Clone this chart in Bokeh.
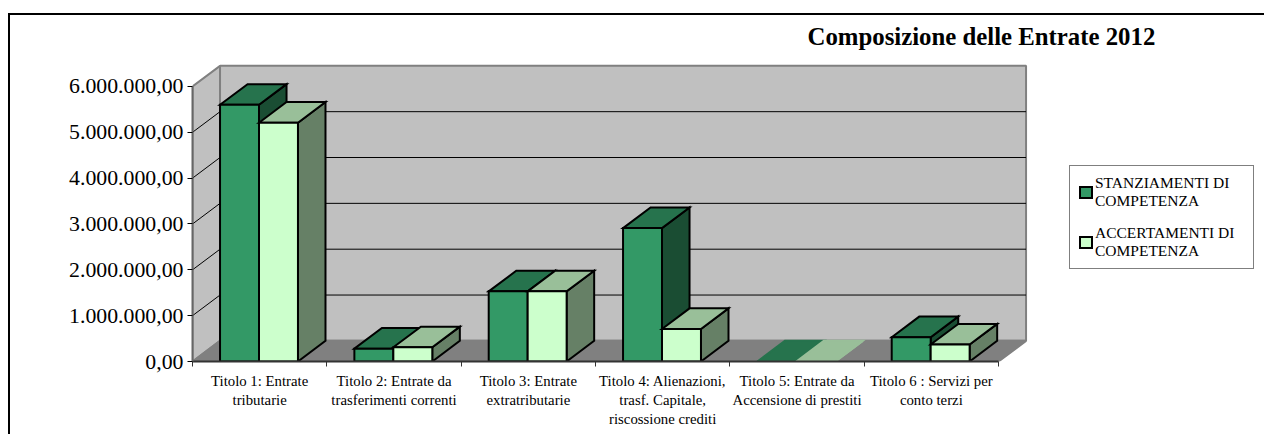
from bokeh.plotting import figure, ColumnDataSource
from bokeh.models import FixedTicker, Legend, LegendItem, Range1d
from bokeh.embed import file_html
from bokeh.resources import INLINE

categories = ["Titolo 1: Entrate\ntributarie", "Titolo 2: Entrate da\ntrasferimenti correnti",
              "Titolo 3: Entrate\nextratributarie", "Titolo 4: Alienazioni,\ntrasf. Capitale,\nriscossione crediti",
              "Titolo 5: Entrate da\nAccensione di prestiti", "Titolo 6 : Servizi per\nconto terzi"]
stanziamenti = [5.60, 0.28, 1.53, 2.91, 0.0, 0.53]
accertamenti = [5.21, 0.31, 1.53, 0.71, 0.0, 0.37]
y_ticks = [0, 1, 2, 3, 4, 5, 6]
y_labels = ["0,00", "1.000.000,00", "2.000.000,00", "3.000.000,00", "4.000.000,00", "5.000.000,00", "6.000.000,00"]
series_names = ["STANZIAMENTI DI\nCOMPETENZA", "ACCERTAMENTI DI\nCOMPETENZA"]
title_text = "Composizione delle Entrate 2012"

FONT = "Liberation Serif"
DX, DY = 0.205, 0.45
OFFSET, BAR_W = 0.205, 0.29
N = len(categories)

# outer border of the chart area, open on the right and at the bottom
frame_css = ("linear-gradient(black,black) 8px 13px/1256px 2px no-repeat,"
             "linear-gradient(black,black) 8px 13px/2px 421px no-repeat")

p = figure(width=1264, height=434, output_backend="svg", toolbar_location=None,
           x_range=Range1d(0, 7.98), y_range=Range1d(0, 6.61),
           min_border_left=192, min_border_right=0, min_border_top=58, min_border_bottom=73,
           outline_line_color=None, title=title_text, border_fill_color=None,
           styles={"background": frame_css})
p.title.align = "left"
p.title.offset = 615
p.title.standoff = 17
p.title.text_font = FONT
p.title.text_font_size = "24.8px"
p.title.text_font_style = "bold"
p.title.text_color = "black"
p.grid.visible = False

# walls and floor
ymax = y_ticks[-1]
wall_src = ColumnDataSource(dict(
    xs=[[0, 0, DX, DX], [DX, DX, N + DX, N + DX], [0, DX, N + DX, N]],
    ys=[[0, ymax, ymax + DY, DY], [DY, ymax + DY, ymax + DY, DY], [0, DY, DY, 0]],
    fill=["#c0c0c0", "#c0c0c0", "#808080"]))
p.patches("xs", "ys", source=wall_src, fill_color="fill", line_color="#808080", line_width=2)
p.multi_line([[0, DX, N + DX] for v in y_ticks[1:-1]],
             [[v, v + DY, v + DY] for v in y_ticks[1:-1]], line_color="black", line_width=1)


def faces(values, shift, top):
    xf, yf, xt, yt, xs, ys, cl = [], [], [], [], [], [], []
    for i, v in enumerate(values):
        l = i + OFFSET + shift * BAR_W
        r = l + BAR_W
        xf.append([l, l, r, r]); yf.append([0, v, v, 0])
        xt.append([l, l + DX, r + DX, r]); yt.append([v, v + DY, v + DY, v])
        xs.append([r, r + DX, r + DX, r]); ys.append([0, DY, v + DY, v])
        cl.append("black" if v > 0 else top)
    return dict(xf=xf, yf=yf, xt=xt, yt=yt, xs=xs, ys=ys, cl=cl)


A = faces(stanziamenti, 0, "#26734d")
B = faces(accertamenti, 1, "#99bf99")
legend_r = []
for d, cf, ct, cs in [(A, "#339966", "#26734d", "#1a4d33"), (B, "#ccffcc", "#99bf99", "#668066")]:
    src = ColumnDataSource(d)
    p.patches("xs", "ys", source=src, fill_color=cs, line_color="cl", line_width=2, line_join="miter")
    p.patches("xt", "yt", source=src, fill_color=ct, line_color="cl", line_width=2, line_join="miter")
    legend_r.append(p.patches("xf", "yf", source=src, fill_color=cf, line_color="cl", line_width=2, line_join="miter"))

# axes
ya = p.yaxis[0]
ya.ticker = FixedTicker(ticks=y_ticks)
ya.major_label_overrides = dict(zip(y_ticks, y_labels))
ya.bounds = (0, ymax)
ya.axis_line_color = "#666666"
ya.axis_line_width = 2
ya.major_tick_line_color = "black"
ya.major_tick_out = 5
ya.major_tick_in = 0
ya.minor_tick_line_color = None
ya.major_label_standoff = 4
ya.major_label_text_font = FONT
ya.major_label_text_font_size = "21.8px"
ya.major_label_text_color = "black"

xa = p.xaxis[0]
centers = [i + 0.5 for i in range(N)]
xa.ticker = FixedTicker(ticks=centers, minor_ticks=list(range(N + 1)))
xa.major_label_overrides = dict(zip(centers, categories))
xa.bounds = (0, N)
xa.axis_line_color = "#333333"
xa.axis_line_width = 2
xa.major_tick_line_color = None
xa.major_tick_out = 5
xa.major_tick_in = 0
xa.minor_tick_line_color = "#333333"
xa.minor_tick_out = 5
xa.minor_tick_in = 0
xa.major_label_standoff = 6
xa.major_label_text_font = FONT
xa.major_label_text_font_size = "14.8px"
xa.major_label_text_color = "black"

legend = Legend(items=[LegendItem(label=series_names[i], renderers=[legend_r[i]], index=0) for i in range(2)],
                location=(877, 92), orientation="vertical",
                label_text_font=FONT, label_text_font_size="15.5px", label_text_color="black",
                label_standoff=2, glyph_width=15, glyph_height=14, spacing=14, label_width=150,
                padding=8, margin=0, border_line_color="black", border_line_width=1,
                background_fill_color="white", background_fill_alpha=1)
p.add_layout(legend)

open("out.html", "w").write(file_html(p, INLINE))
